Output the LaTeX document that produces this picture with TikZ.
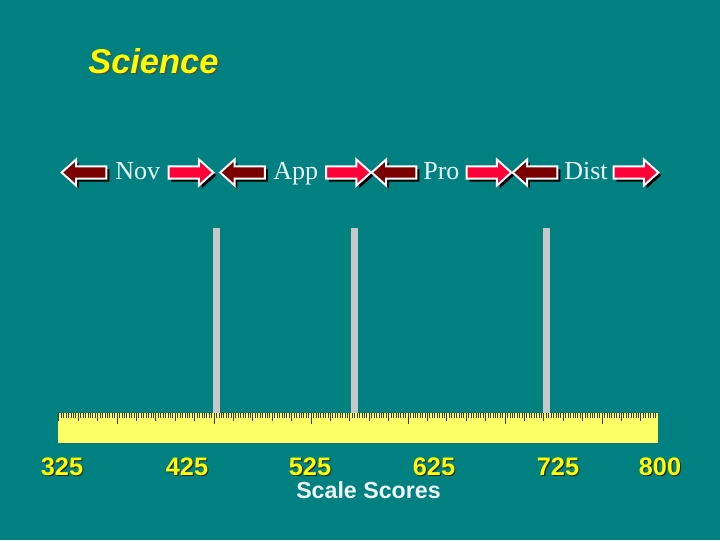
\documentclass[tikz,border=0pt]{standalone}
\usepackage{fontspec}
\setmainfont{Liberation Serif}
\setsansfont{Liberation Sans}
\definecolor{bg}{HTML}{008080}
\definecolor{rul}{HTML}{FFFF66}
\definecolor{bar}{HTML}{C8C8C8}
\definecolor{lft}{HTML}{7A0000}
\definecolor{rgt}{HTML}{FF0038}
\definecolor{num}{HTML}{FFFF00}
\usetikzlibrary{shapes.arrows, shadows}
\tikzset{blockarrow/.style = {single arrow, draw=white, line width=1.4pt, inner xsep=0pt, inner ysep=0.13cm, single arrow head extend=0.17cm, single arrow tip angle=84, minimum height=1.12cm, drop shadow={shadow xshift=2pt, shadow yshift=-2pt, fill=black, opacity=1}}}
\tikzset{leftarrow/.style={blockarrow, fill=lft, shape border rotate=180}}
\tikzset{rightarrow/.style={blockarrow, fill=rgt}}
\tikzset{level/.style={anchor=base west, inner sep=0pt, text=white!92!cyan, font=\fontsize{18.5}{20}\selectfont}}
\tikzset{score/.style={anchor=base, inner sep=0pt, font=\sffamily\bfseries\fontsize{18}{20}\selectfont}}
\tikzset{tick/.style={line width=0.5pt, black!75!olive}}

\begin{document}
\begin{tikzpicture}[x=0.025cm, y=-0.025cm]
		\fill[bg] (0,0) rectangle (720,540);
		\useasboundingbox (0,0) rectangle (720,540);
		% title
		\node[anchor=base west, inner sep=0pt, black!70, font=\sffamily\bfseries\itshape\fontsize{24.5}{26}\selectfont] at (89.5,74.5) {Science};
		\node[anchor=base west, inner sep=0pt, num, font=\sffamily\bfseries\itshape\fontsize{24.5}{26}\selectfont] (title) at (88,73) {Science};
		% levels
		\foreach \lbl/\xl/\xt/\xr in {Nov/87.5/115/187.5, App/246/273/345, Pro/397.5/423/485.5, Dist/538.5/564/632.5} {
			\node[level] (t\lbl) at (\xt,179) {\lbl};
			\node[leftarrow] (l\lbl) at (\xl,172.5) {};
			\node[rightarrow] (r\lbl) at (\xr,172.5) {};
		}
		% cut scores
		\foreach \x in {213, 351, 543} { \fill[bar] (\x,228) rectangle ++(7,185); }
		% ruler
		\fill[rul] (58,413) rectangle (658,443);
		\foreach \k in {-24,...,222} {
			\pgfmathsetmacro\tlen{ifthenelse(mod(\k+200,40)==0, 11, ifthenelse(mod(\k+200,8)==0, 8, 5))}
			\draw[tick] ({117+2.425*\k},413) -- ++(0,\tlen);
		}
		\foreach \v/\x in {325/62, 425/187, 525/310, 625/434, 725/558, 800/660} {
			\node[score, black!85] at (\x+1.2,476.2) {\v};
			\node[score, num] (s\v) at (\x,475) {\v};
		}
		\node[anchor=base, inner sep=0pt, white!94!cyan, font=\sffamily\bfseries\fontsize{16.5}{18}\selectfont] (axis) at (368.5,498) {Scale Scores};
	\end{tikzpicture}
\end{document}
